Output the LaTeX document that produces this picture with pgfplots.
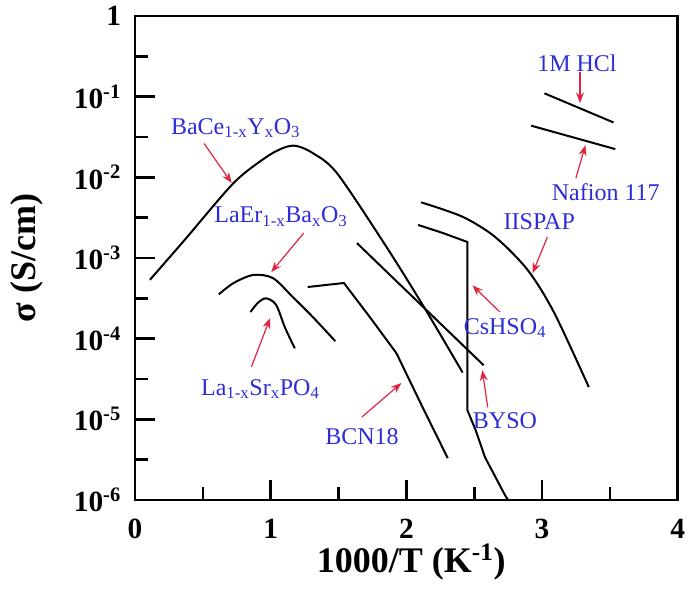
\documentclass[border=0pt]{standalone}
\usepackage{pgfplots}
\pgfplotsset{compat=1.18}
\usepackage{fontspec}
\setmainfont{Liberation Serif}
\usetikzlibrary{arrows.meta,calc}
\definecolor{lblue}{RGB}{45,45,215}
\definecolor{ared}{RGB}{225,35,65}
\begin{document}
\begin{tikzpicture}
\begin{axis}[
  scale only axis, width=407pt, height=363pt,
  xmin=0, xmax=4, ymode=log, ymin=1e-6, ymax=1,
  axis line style={line width=2pt},
  tick pos=left, tick align=inside,
  xtick={0,1,2,3,4}, xticklabels={0,1,2,3,4},
  minor xtick={0.5,1.5,2.5,3.5},
  ytick={1e-6,1e-5,1e-4,1e-3,1e-2,1e-1,1},
  yticklabels={10\textsuperscript{-6},10\textsuperscript{-5},10\textsuperscript{-4},10\textsuperscript{-3},10\textsuperscript{-2},10\textsuperscript{-1},1},
  minor ytick={3.1623e-6,3.1623e-5,3.1623e-4,3.1623e-3,3.1623e-2,3.1623e-1},
  major tick length=15pt, minor tick length=10pt,
  tick style={black, line width=2pt},
  /pgf/number format/assume math mode=true,
  ticklabel style={font=\bfseries\fontsize{22}{22}\selectfont},
  xticklabel style={yshift=-11pt},
  yticklabel style={xshift=-7pt},
  every axis x label/.style={at={(axis description cs:0.509,-0.128)}, anchor=center},
  every axis y label/.style={at={(axis description cs:-0.199,0.5)}, anchor=center, rotate=90},
  label style={font=\bfseries\fontsize{27}{27}\selectfont},
  xlabel={1000/T (K\textsuperscript{-1})},
  ylabel={σ (S/cm)},
  clip=false,
  every axis plot/.append style={black, line width=1.5pt},
]
% BaCe1-xYxO3
\addplot[smooth, tension=0.5] coordinates {(0.11,5.37e-4) (0.364,1.66e-3) (0.727,8.51e-3) (0.967,1.78e-2) (1.10,2.34e-2) (1.19,2.45e-2) (1.31,2.00e-2) (1.49,1.12e-2) (1.855,1.36e-3) (2.145,2.24e-4) (2.415,3.80e-5)};
% LaEr1-xBaxO3
\addplot[smooth] coordinates {(0.618,3.55e-4) (0.727,4.90e-4) (0.873,6.17e-4) (1.018,5.62e-4) (1.164,3.27e-4) (1.31,1.86e-4) (1.476,9.33e-5)};
% La1-xSrxPO4
\addplot[smooth] coordinates {(0.851,2.14e-4) (0.909,2.82e-4) (0.967,3.16e-4) (1.04,2.63e-4) (1.105,1.38e-4) (1.178,7.59e-5)};
% BCN18
\addplot[sharp plot] coordinates {(1.273,4.37e-4) (1.54,4.90e-4) (1.73,1.86e-4) (1.927,6.61e-5) (2.12,1.41e-5) (2.305,3.31e-6)};
% CsHSO4
\addplot[sharp plot] coordinates {(2.087,2.57e-3) (2.27,2.04e-3) (2.45,1.58e-3) (2.45,1.30e-5) (2.51,7.41e-6) (2.58,3.39e-6) (2.727,1.15e-6) (2.75,1e-6)};
% BYSO
\addplot[sharp plot] coordinates {(1.636,1.53e-3) (2.57,4.68e-5)};
% IISPAP
\addplot[smooth] coordinates {(2.109,4.90e-3) (2.415,3.24e-3) (2.655,1.82e-3) (2.895,7.08e-4) (3.09,2.09e-4) (3.345,2.51e-5)};
% 1M HCl
\addplot[sharp plot] coordinates {(3.018,0.110) (3.527,0.0479)};
% Nafion 117
\addplot[sharp plot] coordinates {(2.92,0.0437) (3.54,0.0224)};

\begin{scope}[every node/.style={text=lblue, font=\fontsize{18}{18}\selectfont}]
\node at (axis cs:0.742,4.07e-2) {BaCe\textsubscript{1-x}Y\textsubscript{x}O\textsubscript{3}};
\node at (axis cs:1.076,3.24e-3) {LaEr\textsubscript{1-x}Ba\textsubscript{x}O\textsubscript{3}};
\node at (axis cs:0.924,2.37e-5) {La\textsubscript{1-x}Sr\textsubscript{x}PO\textsubscript{4}};
\node at (axis cs:1.673,6.03e-6) {BCN18};
\node at (axis cs:2.727,1.35e-4) {CsHSO\textsubscript{4}};
\node at (axis cs:2.727,9.55e-6) {BYSO};
\node at (axis cs:2.98,2.79e-3) {IISPAP};
\node at (axis cs:3.258,0.260) {1M HCl};
\node at (axis cs:3.47,6.61e-3) {Nafion 117};
\end{scope}
\begin{scope}[ared, line width=0.9pt, -{Stealth[length=8pt,width=6pt]}]
\draw (axis cs:0.509,2.63e-2) -- (axis cs:0.713,8.51e-3);
\draw (axis cs:1.244,2.04e-3) -- (axis cs:1.004,6.68e-4);
\draw (axis cs:0.858,4.47e-5) -- (axis cs:0.996,1.80e-4);
\draw (axis cs:1.673,1.07e-5) -- (axis cs:1.964,2.82e-5);
\draw (axis cs:2.69,2.14e-4) -- (axis cs:2.487,4.57e-4);
\draw (axis cs:2.60,1.41e-5) -- (axis cs:2.56,4.07e-5);
\draw (axis cs:3.04,1.82e-3) -- (axis cs:2.93,6.46e-4);
\draw (axis cs:3.28,0.200) -- (axis cs:3.28,0.0832);
\draw (axis cs:3.25,9.77e-3) -- (axis cs:3.32,2.51e-2);
\end{scope}
\end{axis}
\pgfresetboundingbox
\path ($(current axis.south west)+(-101.25pt,-67.5pt)$) rectangle ($(current axis.north east)+(9.25pt,12pt)$);
\end{tikzpicture}
\end{document}
